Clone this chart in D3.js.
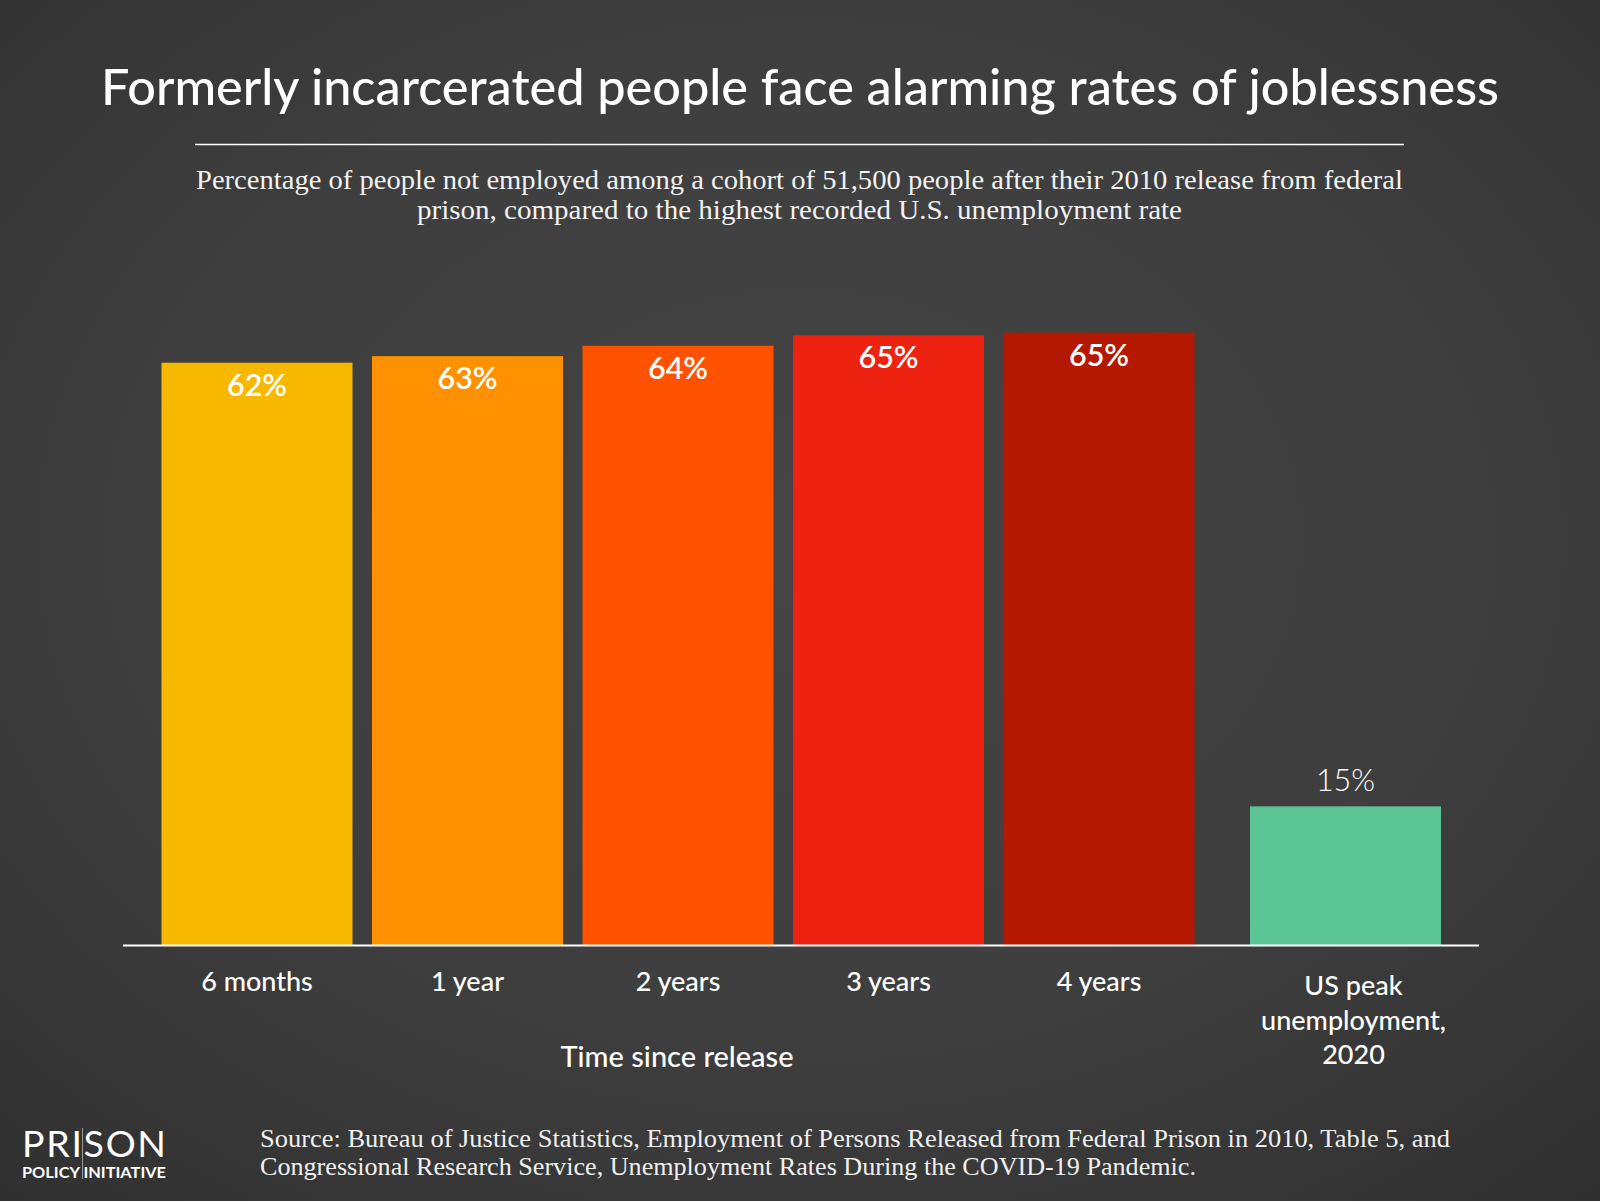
<!DOCTYPE html>
<html><head><meta charset="utf-8">
<script src="https://cdn.jsdelivr.net/npm/d3@7"></script>
<style>html,body{margin:0;padding:0;background:#3a3a3a;} svg{display:block;}</style>
</head><body>
<svg id="chart" width="1600" height="1201"></svg>
<script>
// ---- data ----
const categories = ["6 months", "1 year", "2 years", "3 years", "4 years", "US peak unemployment, 2020"];
const categoryLines = [["6 months"], ["1 year"], ["2 years"], ["3 years"], ["4 years"], ["US peak", "unemployment,", "2020"]];
const values = [62.0, 62.7, 63.8, 64.9, 65.2, 14.8];
const groups = ["release", "release", "release", "release", "release", "benchmark"];
const barColors = ["#F8B800", "#FF9100", "#FF5200", "#EE2210", "#B41800", "#5BC595"];
const titleText = "Formerly incarcerated people face alarming rates of joblessness";
const subtitleLines = [
  "Percentage of people not employed among a cohort of 51,500 people after their 2010 release from federal",
  "prison, compared to the highest recorded U.S. unemployment rate"
];
const xAxisTitle = "Time since release";
const sourceLines = [
  "Source: Bureau of Justice Statistics, Employment of Persons Released from Federal Prison in 2010, Table 5, and",
  "Congressional Research Service, Unemployment Rates During the COVID-19 Pandemic."
];

// ---- layout ----
const W = 1600, H = 1201;
const sans = "Lato, 'Noto Sans', sans-serif";
const serif = "'Liberation Serif', 'DejaVu Serif', serif";
const baseY = 945.5;
const groupGap = 36;

const svg = d3.select("#chart");
const defs = svg.append("defs");
const rg = defs.append("radialGradient").attr("id", "bg")
  .attr("cx", "50%").attr("cy", "45%").attr("r", "75%");
rg.append("stop").attr("offset", "0%").attr("stop-color", "#454545");
rg.append("stop").attr("offset", "55%").attr("stop-color", "#3e3e3e");
rg.append("stop").attr("offset", "100%").attr("stop-color", "#303030");
svg.append("rect").attr("width", W).attr("height", H).attr("fill", "url(#bg)");

const data = categories.map((c, i) => ({cat: c, lines: categoryLines[i], v: values[i], g: groups[i], color: barColors[i]}));

const x = d3.scaleBand().domain(categories)
  .range([161.5, 161.5 + 6 * 210.5 - 19.5])
  .paddingInner(19.5 / 210.5).paddingOuter(0);
const y = d3.scaleLinear().domain([0, 100]).range([baseY, baseY - 940]);
const xPos = d => x(d.cat) + (d.g === "benchmark" ? groupGap : 0);

// title
svg.append("text").attr("x", 800).attr("y", 105).attr("text-anchor", "middle")
  .attr("fill", "#fff").attr("font-family", sans).attr("font-weight", 500)
  .attr("font-size", 51).attr("textLength", 1398).attr("lengthAdjust", "spacingAndGlyphs")
  .text(titleText);
svg.append("line").attr("x1", 195).attr("x2", 1404).attr("y1", 144.5).attr("y2", 144.5)
  .attr("stroke", "#fff").attr("stroke-width", 1.5);
const subLens = [1207, 765];
subtitleLines.forEach((t, i) => {
  svg.append("text").attr("x", 799.5).attr("y", 189 + i * 29.5).attr("text-anchor", "middle")
    .attr("fill", "#f2f2f2").attr("font-family", serif).attr("font-size", 26.5)
    .attr("textLength", subLens[i]).attr("lengthAdjust", "spacingAndGlyphs")
    .text(t);
});

// bars
svg.append("g").selectAll("rect").data(data).join("rect")
  .attr("x", xPos).attr("width", x.bandwidth())
  .attr("y", d => y(d.v)).attr("height", d => y(0) - y(d.v))
  .attr("fill", d => d.color);

// value labels
svg.append("g").selectAll("text").data(data).join("text")
  .attr("x", d => xPos(d) + x.bandwidth() / 2)
  .attr("y", d => d.g === "benchmark" ? y(d.v) - 15 : y(d.v) + 33)
  .attr("text-anchor", "middle").attr("fill", "#fff").attr("font-family", sans)
  .attr("font-weight", d => d.g === "benchmark" ? 300 : 600)
  .attr("font-size", 30.5)
  .text(d => Math.round(d.v) + "%");

// axis baseline
svg.append("line").attr("x1", 123).attr("x2", 1479).attr("y1", y(0)).attr("y2", y(0))
  .attr("stroke", "#fff").attr("stroke-width", 2);

// category labels
const cl = svg.append("g").selectAll("text").data(data).join("text")
  .attr("text-anchor", "middle").attr("fill", "#fff").attr("font-family", sans)
  .attr("font-weight", 500).attr("font-size", 27)
  .attr("transform", d => `translate(${xPos(d) + x.bandwidth() / 2 + (d.g === "benchmark" ? 8 : 0)},${d.lines.length > 1 ? 995 : 991})`);
cl.selectAll("tspan").data(d => d.lines).join("tspan")
  .attr("x", 0).attr("y", (t, i) => i * 34.5).text(t => t);

// axis title
svg.append("text").attr("x", 677).attr("y", 1066.5).attr("text-anchor", "middle")
  .attr("fill", "#fff").attr("font-family", sans).attr("font-weight", 500).attr("font-size", 29)
  .text(xAxisTitle);

// source
const srcLens = [1190, 936];
sourceLines.forEach((t, i) => {
  svg.append("text").attr("x", 260).attr("y", 1147 + i * 28)
    .attr("fill", "#f0f0f0").attr("font-family", serif).attr("font-size", 25)
    .attr("textLength", srcLens[i]).attr("lengthAdjust", "spacingAndGlyphs")
    .text(t);
});

// logo
const logo = svg.append("g");
logo.append("text").attr("x", 22).attr("y", 1157).attr("fill", "#fff")
  .attr("font-family", sans).attr("font-weight", 400).attr("font-size", 37.5)
  .attr("textLength", 144).attr("lengthAdjust", "spacing").text("PRISON");
logo.append("text").attr("x", 22).attr("y", 1177.5).attr("fill", "#fff")
  .attr("font-family", sans).attr("font-weight", 700).attr("font-size", 15.5)
  .attr("textLength", 144).attr("lengthAdjust", "spacingAndGlyphs").text("POLICY INITIATIVE");
logo.append("line").attr("x1", 82.5).attr("x2", 82.5).attr("y1", 1128).attr("y2", 1179)
  .attr("stroke", "#999").attr("stroke-width", 1);
</script>
</body></html>
